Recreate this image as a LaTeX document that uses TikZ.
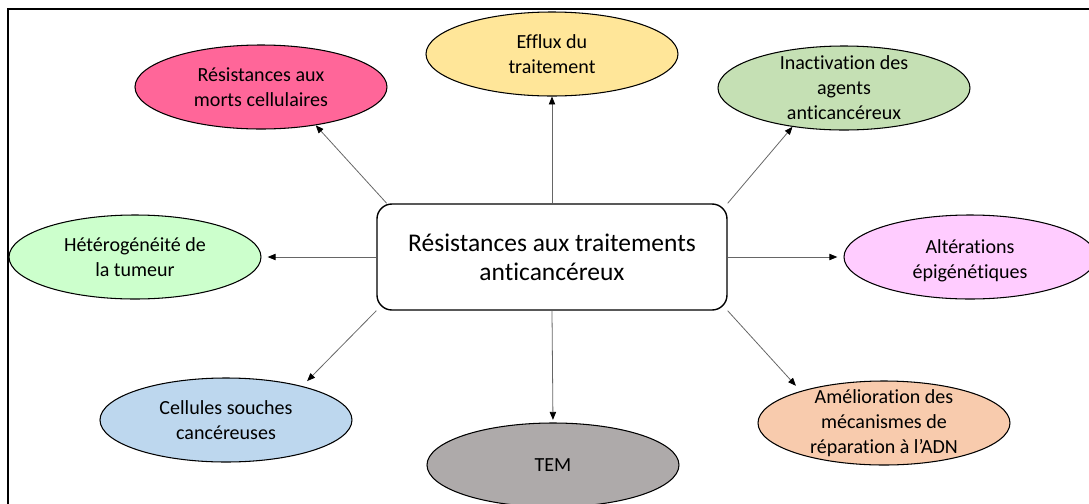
\documentclass[tikz,border=0pt]{standalone}
\usepackage{fontspec}
\setmainfont{Carlito}[Ligatures=NoCommon]
\usetikzlibrary{arrows.meta, shapes.geometric}

\definecolor{mortsfill}{HTML}{FF6699}
\definecolor{effluxfill}{HTML}{FFE699}
\definecolor{inactfill}{HTML}{C5E0B4}
\definecolor{heterofill}{HTML}{CCFFCC}
\definecolor{alterfill}{HTML}{FFCCFF}
\definecolor{cellulesfill}{HTML}{BDD7EE}
\definecolor{temfill}{HTML}{AEAAAA}
\definecolor{ameliofill}{HTML}{F8CBAD}

\begin{document}
\begin{tikzpicture}[
		node distance=1cm,
		cause/.style={ellipse,draw,semithick,minimum width=5.04cm,minimum height=1.68cm,inner sep=0pt},
		causetext/.style={align=center,font=\fontsize{11.4}{14.2}\selectfont},
		mainbox/.style={rectangle,rounded corners=8.5pt,draw,thick,fill=white,minimum width=7cm,
			minimum height=2.12cm,align=center,font=\fontsize{14.5}{16.5}\selectfont},
		link/.style={draw=black!60,line width=0.45pt,-{Triangle[length=4.5pt,width=3.6pt,color=black]}}
		]

		\useasboundingbox (-11.04,-4.92) rectangle (10.74,5.14);
		\draw[line width=1.1pt] (-10.88,4.96) rectangle (11.5,-5.5);

		\node[mainbox](centre){Résistances aux traitements\\anticancéreux};

		\node[cause, fill=effluxfill, above of = centre, yshift = 3.06cm,
		label={[causetext]center:Efflux du\\traitement}](efflux){};
		\node[cause, fill=mortsfill, above of = centre, xshift = -5.82cm, yshift = 2.4cm,
		label={[causetext]center:Résistances aux\\morts cellulaires}](morts){};
		\node[cause, fill=inactfill, above of = centre, xshift = 5.84cm, yshift = 2.38cm,
		label={[causetext]center:Inactivation des\\agents\\anticancéreux}](inact){};
		\node[cause, fill=heterofill, left of = centre, xshift = -7.34cm,
		label={[causetext]center:Hétérogénéité de\\la tumeur}](hetero){};
		\node[cause, fill=alterfill, right of = centre, xshift = 7.36cm,
		label={[causetext, yshift=-0.08cm]center:Altérations\\épigénétiques}](alter){};
		\node[cause, fill=cellulesfill, below of = centre, xshift = -6.52cm, yshift = -2.26cm,
		label={[causetext]center:Cellules souches\\cancéreuses}](cellules){};
		\node[cause, fill=temfill, below of = centre, xshift = 0.02cm, yshift = -3.16cm,
		label={[causetext]center:TEM}](tem){};
		\node[cause, fill=ameliofill, below of = centre, xshift = 6.64cm, yshift = -2.32cm,
		label={[causetext]center:Amélioration des\\mécanismes de\\réparation à l’ADN}](amelio){};

		\draw[link] (centre.north) -- (efflux.south);
		\draw[link] (centre.162) -- (morts.-35);
		\draw[link] (centre.17) -- (inact.-143);
		\draw[link, shorten >=3.5pt] (centre.west) -- (hetero.east);
		\draw[link, shorten >=3.5pt] (centre.east) -- (alter.west);
		\draw[link, shorten >=4pt] (centre.197) -- (cellules.24);
		\draw[link, shorten >=1.5pt] (centre.south) -- (tem.north);
		\draw[link, shorten >=4pt] (centre.-17) -- (amelio.159);

	\end{tikzpicture}
\end{document}
